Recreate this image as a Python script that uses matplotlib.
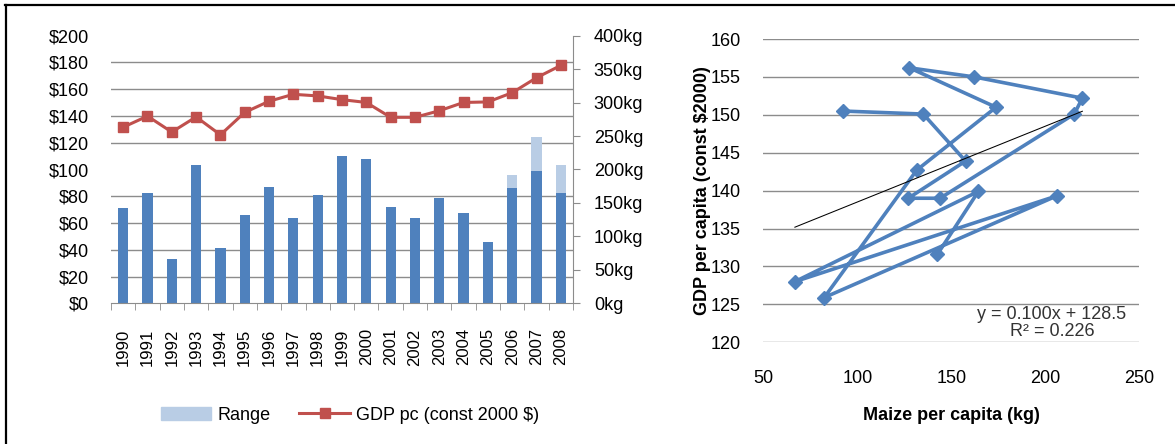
import numpy as np
import matplotlib
matplotlib.use("Agg")
import matplotlib.pyplot as plt
from matplotlib.patches import Patch
from matplotlib.lines import Line2D
from matplotlib.ticker import FixedLocator, MultipleLocator

plt.rcParams['font.family'] = ['Liberation Sans', 'DejaVu Sans']

years = [str(y) for y in range(1990, 2009)]
maize_kg = [142.6, 164.4, 66.8, 206.0, 82.4, 131.6, 173.8, 127.7, 162.2, 219.7,
            215.4, 144.0, 127.1, 157.6, 135.1, 92.2, 172.0, 198.0, 165.0]
range_top = [np.nan] * 16 + [192.0, 248.0, 207.0]
gdp_pc = [131.6, 139.9, 128.0, 139.3, 125.9, 142.7, 151.0, 156.2, 155.0, 152.2,
          150.1, 139.0, 139.0, 143.9, 150.1, 150.5, 157.4, 168.6, 177.8]
n_scatter = 16          # 1990-2005 used in the scatter
trend_slope, trend_icpt = 0.100, 128.5

BLUE = '#4F81BD'
LIGHT = '#B9CDE5'
RED = '#C0504D'
GRID = '#8C8C8C'
FS = 13

fig = plt.figure(figsize=(11.75, 4.44), dpi=100)
W, H = 1175, 444

def box(x0, y0, x1, y1):
    return [x0 / W, 1 - y1 / H, (x1 - x0) / W, (y1 - y0) / H]

# ---- left chart: bars in kg (bottom axes), GDP line in $ (top axes)
ax = fig.add_axes(box(111, 35.7, 573, 303.3))
ax2 = ax.twinx()
x = np.arange(len(years))
ax.bar(x, maize_kg, width=0.42, color=BLUE, zorder=2)
ax.bar(x, np.array(range_top) - np.array(maize_kg), bottom=maize_kg, width=0.42,
       color=LIGHT, zorder=2)
ax.set_xlim(-0.5, len(years) - 0.5)
ax.set_ylim(0, 400)
ax.yaxis.tick_right()
ax.yaxis.set_label_position('right')
ax.set_yticks(np.arange(0, 401, 50))
ax.set_yticklabels([f'{v}kg' for v in range(0, 401, 50)])
ax.yaxis.set_minor_locator(MultipleLocator(40))
ax.grid(axis='y', which='minor', color=GRID, linewidth=1.0, zorder=0)
ax.tick_params(axis='y', which='minor', length=0)
ax.tick_params(axis='y', which='major', length=5, color=GRID, pad=10, labelsize=FS)
ax.set_xticks(x)
ax.set_xticklabels(years, rotation=90, fontsize=FS - 1)
ax.xaxis.set_minor_locator(FixedLocator(np.arange(-0.5, len(years), 1)))
ax.tick_params(axis='x', which='major', length=0, pad=18)
ax.tick_params(axis='x', which='minor', length=5, color=GRID)
for s in ['top', 'left']:
    ax.spines[s].set_visible(False)
for s in ['right', 'bottom']:
    ax.spines[s].set_color(GRID)

ax2.plot(x, gdp_pc, color=RED, linewidth=2.2, marker='s', markersize=6.5,
         markeredgecolor=RED, markerfacecolor=RED)
ax2.set_ylim(0, 200)
ax2.yaxis.tick_left()
ax2.set_yticks(np.arange(0, 201, 20))
ax2.set_yticklabels([f'${v}' for v in range(0, 201, 20)])
ax2.tick_params(axis='y', length=0, pad=16, labelsize=FS)
for s in ax2.spines.values():
    s.set_visible(False)

handles = [Patch(color=LIGHT),
           Line2D([], [], color=RED, linewidth=2.2, marker='s', markersize=6.5)]
fig.legend(handles, ['Range', 'GDP pc (const 2000 $)'], loc='center',
           bbox_to_anchor=(350 / W, 1 - 415 / H), ncol=2, frameon=False,
           fontsize=FS, handlelength=2.8, handletextpad=0.35, columnspacing=1.6)

# ---- right chart: scatter of GDP vs maize
ax3 = fig.add_axes(box(763.3, 39, 1139.3, 342.3))
ax3.plot(maize_kg[:n_scatter], gdp_pc[:n_scatter], color=BLUE, linewidth=2.6,
         marker='D', markersize=7.5, zorder=3)
tx = np.array([min(maize_kg[:n_scatter]), max(maize_kg[:n_scatter])])
ax3.plot(tx, trend_slope * tx + trend_icpt, color='black', linewidth=0.75, zorder=4)
ax3.set_xlim(50, 250)
ax3.set_ylim(120, 160)
ax3.xaxis.set_major_locator(MultipleLocator(50))
ax3.yaxis.set_major_locator(MultipleLocator(5))
ax3.grid(axis='y', color=GRID, linewidth=1.0, zorder=0)
ax3.tick_params(length=0, labelsize=FS)
ax3.tick_params(axis='x', pad=20)
ax3.tick_params(axis='y', pad=16)
for s in ax3.spines.values():
    s.set_visible(False)
ax3.set_xlabel('Maize per capita (kg)', fontsize=FS, fontweight='bold', labelpad=14)
ax3.set_ylabel('GDP per capita (const $2000)', fontsize=FS, fontweight='bold', labelpad=0)
ax3.text(1052 / W, 1 - 323 / H, f'y = {trend_slope:.3f}x + {trend_icpt}\nR² = 0.226',
         transform=fig.transFigure, ha='center', va='center', fontsize=FS,
         color='#333333', linespacing=1.0)

# ---- frame lines (top and left only)
fig.add_artist(Line2D([5 / W, 1], [1 - 5.5 / H, 1 - 5.5 / H], color='black',
                      linewidth=1.6, transform=fig.transFigure))
fig.add_artist(Line2D([5.5 / W, 5.5 / W], [0, 1 - 5 / H], color='black',
                      linewidth=1.6, transform=fig.transFigure))

fig.savefig('out.png', dpi=100)
